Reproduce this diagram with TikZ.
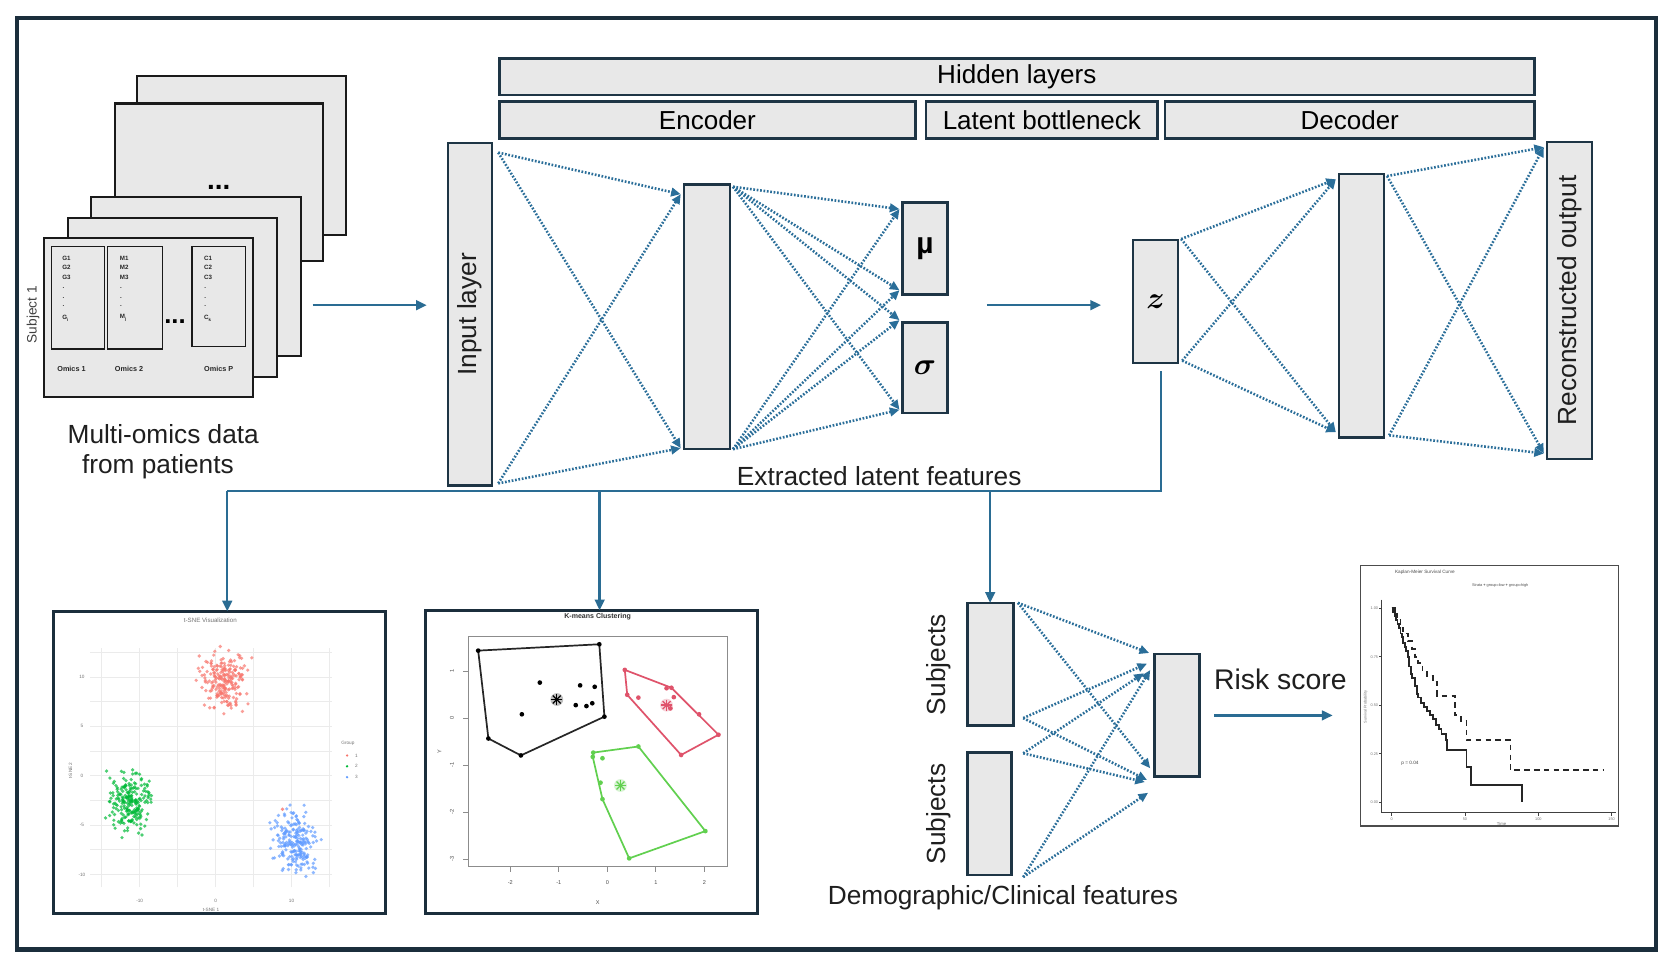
\documentclass[tikz,border=0pt]{standalone}
\usepackage{fontspec}
\setmainfont{Liberation Sans}
\usepackage{bm}
\usetikzlibrary{arrows.meta,calc}
\definecolor{framec}{HTML}{1B2E3C}
\definecolor{boxfill}{HTML}{E8E8E8}
\definecolor{boxline}{HTML}{1E3545}
\definecolor{pageline}{HTML}{1A1A1A}
\definecolor{flowc}{HTML}{2A6C93}
\definecolor{dotc}{HTML}{2A6E99}
\definecolor{tred}{HTML}{F8766D}
\definecolor{tgreen}{HTML}{00BA38}
\definecolor{tblue}{HTML}{619CFF}
\definecolor{kred}{HTML}{DF536B}
\definecolor{kgreen}{HTML}{61D04F}
\newcommand\mkbox[7]{%
 \pgfmathsetmacro\mkbW{(#5-#3)*0.5}%
 \pgfmathsetmacro\mkbH{(#6-#4)*0.5}%
 \node[#1, minimum width=\mkbW pt, minimum height=\mkbH pt] (#2) at ({(#3+#5)/2},{(#4+#6)/2}) {#7};}
\tikzset{
 layer/.style={draw=boxline, fill=boxfill, line width=1.2pt, inner sep=0pt, outer sep=0pt},
 page/.style={draw=pageline, fill=boxfill, line width=1pt, inner sep=0pt, outer sep=0pt},
 omicsbox/.style={draw=pageline, fill=boxfill, line width=0.6pt, inner sep=0pt, outer sep=0pt},
 plotbox/.style={draw=framec, fill=white, line width=1.4pt, inner sep=0pt, outer sep=0pt},
 kmbox/.style={draw=black!70, fill=white, line width=0.8pt, inner sep=0pt, outer sep=0pt},
 lab/.style={font=\fontsize{12.3}{14.6}\selectfont, text=black!88, inner sep=0pt},
 itm/.style={font=\bfseries\fontsize{2.9}{3.4}\selectfont, inner sep=0pt, anchor=west, text=black!85},
 omlab/.style={font=\bfseries\fontsize{3.4}{4}\selectfont, inner sep=0pt, text=black!85},
 dotarr/.style={draw=dotc, line width=1.2pt, dash pattern=on 0.8pt off 0.8pt, -{Triangle[length=4.5pt,width=4pt]}},
 flowline/.style={draw=flowc, line width=1.1pt},
 flowarr/.style={flowline, -{Triangle[length=5pt,width=4.5pt]}},
 tinyg/.style={font=\fontsize{2.2}{2.6}\selectfont, text=black!55, inner sep=0pt},
 tinyk/.style={font=\fontsize{2.6}{3}\selectfont, text=black!70, inner sep=0pt},
}
\begin{document}
\begin{tikzpicture}[x=0.5pt,y=-0.5pt]
\useasboundingbox (0,0) rectangle (1568,907);
\fill[white] (0,0) rectangle (1568,907);
\draw[framec, line width=2pt] (16,17) rectangle (1552,890);

% ---------- multi-omics stack ----------
\mkbox{page}{p5}{128}{71}{324}{220}{}
\mkbox{page}{p4}{108}{97}{303}{245}{}
\node[font=\bfseries\fontsize{13}{14}\selectfont, inner sep=0pt] (dots4) at (205,176) {...};
\mkbox{page}{p3}{85}{185}{282}{334}{}
\mkbox{page}{p2}{64}{204}{260}{353}{}
\mkbox{page}{p1}{41}{223}{237}{372}{}
\mkbox{omicsbox}{og}{48}{231}{98}{327}{}
\mkbox{omicsbox}{om}{101}{231}{152}{327}{}
\mkbox{omicsbox}{oc}{180}{231}{230}{325}{}
\foreach \pre/\xx/\sub in {G/58/i, M/112/j, C/191/k}{
  \node[itm] (\pre1) at (\xx,242) {\pre1};
  \node[itm] (\pre2) at (\xx,251) {\pre2};
  \node[itm] (\pre3) at (\xx,260) {\pre3};
  \node[itm] (\pre d1) at (\xx,270) {.};
  \node[itm] (\pre d2) at (\xx,279) {.};
  \node[itm] (\pre d3) at (\xx,287) {.};
  \node[itm] (\pre n) at (\xx,298) {\pre\textsubscript{\sub}};
}
\node[font=\bfseries\fontsize{12}{13}\selectfont, inner sep=0pt] (dots1) at (164,301) {...};
\node[omlab] (om1) at (67,346) {Omics 1};
\node[omlab] (om2) at (121,346) {Omics 2};
\node[omlab] (omp) at (205,346) {Omics P};
\node[font=\fontsize{6.4}{7}\selectfont, text=black!75, rotate=90, inner sep=0pt] (subj1) at (31,295) {Subject 1};
\node[lab] (mo1) at (153,407) {Multi-omics data};
\node[lab] (mo2) at (148,437) {from patients};

% ---------- header ----------
\mkbox{layer}{hid}{468}{55}{1438}{89}{\fontsize{12.2}{14}\selectfont Hidden layers}
\mkbox{layer}{enc}{468}{95}{858}{130}{\fontsize{12.2}{14}\selectfont Encoder}
\mkbox{layer}{lat}{868}{95}{1085}{130}{\fontsize{12.2}{14}\selectfont Latent bottleneck}
\mkbox{layer}{dec}{1092}{95}{1438}{130}{\fontsize{12.2}{14}\selectfont Decoder}

% ---------- network ----------
\mkbox{layer}{inp}{420}{134}{461}{455}{}
\node[lab, rotate=90] (inpL) at (inp.center) {Input layer};
\mkbox{layer}{h1}{641}{173}{684}{421}{}
\mkbox{layer}{mu}{846}{190}{888}{276}{\bfseries\fontsize{14}{16}\selectfont µ}
\mkbox{layer}{sg}{846}{302}{888}{387}{\fontsize{14}{16}\selectfont$\bm{\sigma}$}
\mkbox{layer}{zz}{1062}{225}{1104}{340}{\fontsize{15}{17}\selectfont$\bm{z}$}
\mkbox{layer}{h2}{1255}{163}{1297}{410}{}
\mkbox{layer}{rec}{1450}{133}{1492}{430}{}
\node[lab, rotate=90] (recL) at (rec.center) {Reconstructed output};

% stack -> input
\draw[flowarr] ([shift={(11,26.5)}]p3.east) -- ([shift={(-20,-8.5)}]inp.west);
% input -> h1
\coordinate (iT) at ([shift={(6,9)}]inp.north east);
\coordinate (iB) at ([shift={(6,-2)}]inp.south east);
\coordinate (h1T) at ([shift={(-3,9)}]h1.north west);
\coordinate (h1B) at ([shift={(-3,-1)}]h1.south west);
\draw[dotarr] (iT) -- (h1T);
\draw[dotarr] (iT) -- (h1B);
\draw[dotarr] (iB) -- (h1T);
\draw[dotarr] (iB) -- (h1B);
% h1 -> mu, sigma
\coordinate (h1oT) at ([shift={(3,2)}]h1.north east);
\coordinate (h1oB) at ([shift={(3,0)}]h1.south east);
\coordinate (muT) at ([shift={(-3,6)}]mu.north west);
\coordinate (muB) at ([shift={(-3,-4)}]mu.south west);
\coordinate (sgT) at ([shift={(-3,-2)}]sg.north west);
\coordinate (sgB) at ([shift={(-3,-3)}]sg.south west);
\foreach \t in {muT,muB,sgT,sgB}{
  \draw[dotarr] (h1oT) -- (\t);
  \draw[dotarr] (h1oB) -- (\t);
}
% mu/sigma -> z
\draw[flowarr] ([shift={(37,-3)}]$(mu.south east)!0.5!(sg.north east)$) -- ([shift={(-30,3.5)}]zz.west);
% z -> h2
\coordinate (zT) at ([shift={(3,-1)}]zz.north east);
\coordinate (zB) at ([shift={(4,-2)}]zz.south east);
\coordinate (h2T) at ([shift={(-3,5)}]h2.north west);
\coordinate (h2B) at ([shift={(-3,-5)}]h2.south west);
\draw[dotarr] (zT) -- (h2T);
\draw[dotarr] (zT) -- (h2B);
\draw[dotarr] (zB) -- (h2T);
\draw[dotarr] (zB) -- (h2B);
% h2 -> rec
\coordinate (h2oT) at ([shift={(3,2)}]h2.north east);
\coordinate (h2oB) at ([shift={(5,-2)}]h2.south east);
\coordinate (rT) at ([shift={(-3,5)}]rec.north west);
\coordinate (rB) at ([shift={(-3,-5)}]rec.south west);
\draw[dotarr] (h2oT) -- (rT);
\draw[dotarr] (h2oT) -- (rB);
\draw[dotarr] (h2oB) -- (rT);
\draw[dotarr] (h2oB) -- (rB);

\node[lab] (extr) at (824,446) {Extracted latent features};

% ---------- bottom boxes ----------
\mkbox{plotbox}{tsne}{50}{573}{361}{856}{}
\mkbox{plotbox}{km}{399}{572}{710}{856}{}
\mkbox{layer}{s1}{907}{565}{950}{680}{}
\mkbox{layer}{s2}{907}{705}{948}{820}{}
\mkbox{layer}{risk}{1082}{613}{1124}{728}{}
\mkbox{kmbox}{kmp}{1275}{530}{1517}{774}{}
\node[lab, rotate=90] (s1L) at (880,623) {Subjects};
\node[lab, rotate=90] (s2L) at (880,763) {Subjects};
\node[font=\fontsize{13.3}{15}\selectfont, text=black!88, inner sep=0pt] (riskL) at (1200,637) {Risk score};
\node[lab] (demo) at (940,841) {Demographic/Clinical features};

% bus
\coordinate (busR) at (1088,460);
\coordinate (busL) at (213,460);
\coordinate (busK) at (562,460);
\coordinate (busS) at (928,460);
\draw[flowline] ([shift={(5,8)}]zz.south) -- (busR) -- (busL);
\draw[flowarr] (busL) -- (busL |- tsne.north);
\draw[flowarr] (busK) -- (busK |- km.north);
\draw[flowarr] (busS) -- (busS |- s1.north);

% subjects -> risk
\coordinate (sA) at ([shift={(4,0)}]s1.north east);
\coordinate (sB) at ([shift={(9,-7)}]s1.south east);
\coordinate (sC) at ([shift={(11,1)}]s2.north east);
\coordinate (sD) at ([shift={(11,2)}]s2.south east);
\draw[dotarr] (sA) -- ([shift={(-5,-1)}]risk.north west);
\draw[dotarr] (sA) -- ([shift={(-4,-8)}]risk.south west);
\draw[dotarr] (sB) -- ([shift={(-7,9)}]risk.north west);
\draw[dotarr] (sB) -- ([shift={(-7,3)}]risk.south west);
\draw[dotarr] (sC) -- ([shift={(-10,18)}]risk.north west);
\draw[dotarr] (sC) -- ([shift={(-9,5)}]risk.south west);
\draw[dotarr] (sD) -- ([shift={(-4,15)}]risk.north west);
\draw[dotarr] (sD) -- ([shift={(-6,15)}]risk.south west);
% risk -> KM
\draw[flowarr] ([xshift=7]risk.east) -- ([xshift=-13]risk.east -| kmp.west);

% ---------- t-SNE plot ----------
\begin{scope}[shift={(202.1,727)},x=3.56pt,y=4.625pt]
 \foreach \gx in {-15,-10,-5,0,5,10,15} \draw[black!8, line width=0.35pt] (\gx,-11.3) -- (\gx,12.9);
 \foreach \gy in {-10,-7.5,-5,-2.5,0,2.5,5,7.5,10,12.5} \draw[black!8, line width=0.35pt] (-16.5,\gy) -- (15.3,\gy);
 \pgfmathsetseed{11}
 \foreach \i in {1,...,220}{
   \pgfmathsetmacro\px{1.0+1.4*(rand+rand+rand)}
   \pgfmathsetmacro\py{9.8+1.4*(rand+rand+rand)}
   \fill[tred,opacity=.7] (\px,\py) circle[radius=0.85pt];
 }
 \foreach \i in {1,...,220}{
   \pgfmathsetmacro\px{-11.4+1.35*(rand+rand+rand)}
   \pgfmathsetmacro\py{-2.6+1.4*(rand+rand+rand)}
   \fill[tgreen,opacity=.7] (\px,\py) circle[radius=0.85pt];
 }
 \foreach \i in {1,...,220}{
   \pgfmathsetmacro\px{10.4+1.3*(rand+rand+rand)}
   \pgfmathsetmacro\py{-6.7+1.5*(rand+rand+rand)}
   \fill[tblue,opacity=.7] (\px,\py) circle[radius=0.85pt];
 }
 \fill[tred,opacity=.8] (8.8,-3.4) circle[radius=0.85pt];
 \node[tinyg, font=\fontsize{2.9}{3.2}\selectfont] (tsT) at (-0.7,15.7) {t-SNE Visualization};
 \foreach \v in {10,5,0,-5,-10} \node[tinyg] (tsy\v) at (-17.6,\v) {\v};
 \foreach \v in {-10,0,10} \node[tinyg] (tsx\v) at (\v,-12.7) {\v};
 \node[tinyg] (tsxl) at (-0.6,-13.6) {t-SNE 1};
 \node[tinyg, rotate=90] (tsyl) at (-19.1,0.5) {t-SNE 2};
 \node[tinyg, anchor=west] (grp) at (16.5,3.3) {Group};
 \foreach \c/\yy/\k in {tred/2.05/1, tgreen/0.95/2, tblue/-0.15/3}{
   \fill[\c] (17.3,\yy) circle[radius=0.6pt];
   \node[tinyg, anchor=west] (grp\k) at (18.3,\yy) {\k};
 }
\end{scope}

% ---------- K-means plot ----------
\begin{scope}[shift={(569.2,673.2)},x=22.75pt,y=22.025pt]
 \draw[black!45, line width=0.4pt] (-2.86,-3.15) rectangle (2.48,1.75);
 \foreach \v in {1,0,-1,-2,-3}{
   \draw[black!45, line width=0.4pt] (-2.86,\v) -- (-2.98,\v);
   \node[tinyk, rotate=90] (kmy\v) at (-3.2,\v) {\v};
 }
 \foreach \v in {-2,-1,0,1,2}{
   \draw[black!45, line width=0.4pt] (\v,-3.15) -- (\v,-3.27);
   \node[tinyk] (kmx\v) at (\v,-3.5) {\v};
 }
 \node[tinyk] (kmX) at (-0.2,-3.92) {X};
 \node[tinyk, rotate=90] (kmY) at (-3.46,-0.72) {Y};
 \node[tinyk, font=\bfseries\fontsize{3.3}{3.8}\selectfont, text=black!80] (kmT) at (-0.2,2.16) {K-means Clustering};
 % black cluster
 \draw[black!85, line width=0.8pt] (-2.66,1.44) -- (-0.165,1.575) -- (-0.06,0.035) -- (-1.78,-0.79) -- (-2.45,-0.43) -- cycle;
 \foreach \p in {(-2.66,1.44),(-0.165,1.575),(-0.06,0.035),(-1.78,-0.79),(-2.45,-0.43),(-1.39,0.76),(-1.76,0.085),(-0.56,0.70),(-0.26,0.67),(-0.65,0.28),(-0.43,0.26),(-0.31,0.32)}
   \fill[black] \p circle[radius=1.1pt];
 % red cluster
 \draw[kred, line width=0.8pt] (0.36,1.03) -- (1.32,0.65) -- (2.29,-0.35) -- (1.52,-0.78) -- (0.41,0.50) -- cycle;
 \foreach \p in {(0.36,1.03),(1.32,0.65),(2.29,-0.35),(1.52,-0.78),(0.41,0.50),(1.22,0.64),(0.64,0.44),(1.37,0.45),(1.89,0.085),(1.30,0.21)}
   \fill[kred] \p circle[radius=1.1pt];
 % green cluster
 \draw[kgreen, line width=0.8pt] (-0.29,-0.73) -- (0.64,-0.60) -- (2.02,-2.40) -- (0.45,-2.98) -- (-0.10,-1.72) -- (-0.30,-0.82) -- cycle;
 \foreach \p in {(-0.29,-0.73),(0.64,-0.60),(2.02,-2.40),(0.45,-2.98),(-0.10,-1.72),(-0.30,-0.82),(-0.10,-0.85),(-0.14,-1.37)}
   \fill[kgreen] \p circle[radius=1.1pt];
 % centroids
 \foreach \c/\cx/\cy in {black/-1.04/0.40, kred/1.22/0.28, kgreen/0.27/-1.43}{
   \fill[\c, opacity=.25] (\cx,\cy) circle[radius=3pt];
   \foreach \a in {0,45,90,135}
     \draw[\c, line width=0.6pt] ([shift={(\a:2.6pt)}]\cx,\cy) -- ([shift={(\a+180:2.6pt)}]\cx,\cy);
 }
\end{scope}

% ---------- Kaplan-Meier plot ----------
\begin{scope}[shift={(1304.3,751.9)},x=0.6873pt,y=90.9pt]
 \draw[black!75, line width=0.45pt] (-6.8,1.045) -- (-6.8,-0.055) -- (153,-0.055);
 \foreach \v in {1.00,0.75,0.50,0.25,0.00}{
   \draw[black!75, line width=0.4pt] (-6.8,\v) -- (-8.3,\v);
   \node[tinyg, font=\fontsize{1.8}{2}\selectfont, anchor=east] (kmpy\v) at (-9,\v) {\v};
 }
 \foreach \v in {0,50,100,150}{
   \draw[black!75, line width=0.4pt] (\v,-0.055) -- (\v,-0.07);
   \node[tinyg, font=\fontsize{1.8}{2}\selectfont] (kmpx\v) at (\v,-0.088) {\v};
 }
 \node[tinyg, font=\fontsize{2}{2.2}\selectfont] (kmpT) at (75,-0.11) {Time};
 \node[tinyg, font=\fontsize{1.8}{2}\selectfont, rotate=90] (kmpY) at (-17.7,0.49) {Survival Probability};
 \node[tinyg, font=\fontsize{2.2}{2.5}\selectfont, text=black!70] (kmpTi) at (22.7,1.187) {Kaplan-Meier Survival Curve};
 \node[tinyg, font=\fontsize{1.8}{2}\selectfont, text=black!70] (kmpLeg) at (74,1.12) {Strata \textbf{+} group=low \textbf{+} group=high};
 \node[tinyg, font=\fontsize{2.2}{2.5}\selectfont, text=black!75] (kmpP) at (12.5,0.2) {p = 0.04};
 \draw[black!85, line width=0.9pt] (0,1)--(1,1)--(1,0.98)--(2,0.98)--(2,0.96)--(3,0.96)--(3,0.94)--(4,0.94)--(4,0.92)--(5,0.92)--(5,0.9)--(6,0.9)--(6,0.87)--(7,0.87)--(7,0.85)--(8,0.85)--(8,0.82)--(9,0.82)--(9,0.8)--(10,0.8)--(10,0.78)--(11,0.78)--(11,0.75)--(12,0.75)--(12,0.7)--(13,0.7)--(13,0.66)--(14,0.66)--(14,0.64)--(16,0.64)--(16,0.6)--(17,0.6)--(17,0.56)--(18,0.56)--(18,0.54)--(20,0.54)--(20,0.51)--(22,0.51)--(22,0.49)--(24,0.49)--(24,0.47)--(26,0.47)--(26,0.45)--(28,0.45)--(28,0.43)--(30,0.43)--(30,0.4)--(32,0.4)--(32,0.38)--(34,0.38)--(34,0.35)--(37,0.35)--(37,0.32)--(38,0.32)--(38,0.27)--(51,0.27)--(51,0.18)--(54,0.18)--(54,0.09)--(89,0.09)--(89,0.0);
 \draw[black!85, line width=0.9pt, dash pattern=on 2.6pt off 2pt] (0,1)--(2,1)--(2,0.97)--(4,0.97)--(4,0.94)--(6,0.94)--(6,0.9)--(8,0.9)--(8,0.87)--(11,0.87)--(11,0.83)--(14,0.83)--(14,0.79)--(16,0.79)--(16,0.75)--(18,0.75)--(18,0.72)--(21,0.72)--(21,0.68)--(24,0.68)--(24,0.65)--(28,0.65)--(28,0.62)--(31,0.62)--(31,0.55)--(43,0.55)--(43,0.45)--(47,0.45)--(47,0.42)--(51,0.42)--(51,0.32)--(81,0.32)--(81,0.165)--(144,0.165);
\end{scope}
\end{tikzpicture}
\end{document}
